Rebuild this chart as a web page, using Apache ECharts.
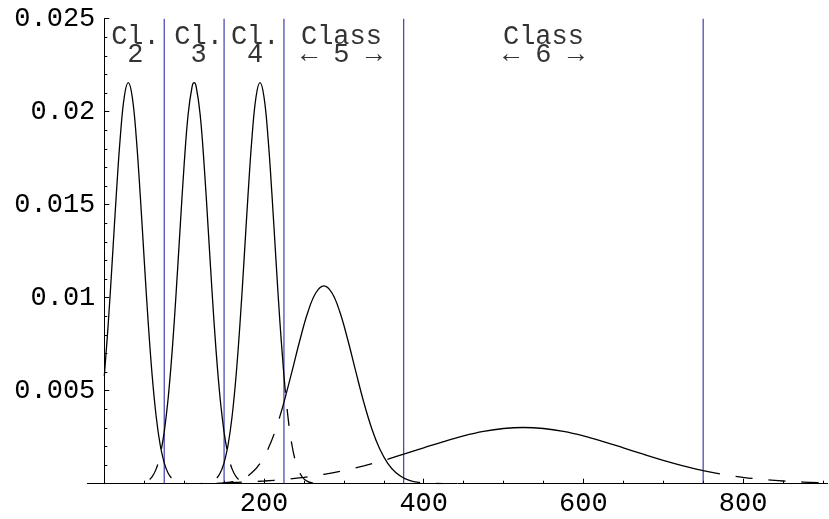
<!DOCTYPE html>
<html>
<head>
<meta charset="utf-8">
<title>Class densities</title>
<script src="https://cdn.jsdelivr.net/npm/echarts@6/dist/echarts.min.js"></script>
<style>
  html, body { margin: 0; padding: 0; background: #fff; }
  #chart { width: 829px; height: 519px; }
</style>
</head>
<body>
<div id="chart"></div>
<script>
// Class boundaries (vertical lines) and the interval owned by each class
const boundaries = [75, 150, 225, 375, 750];
const classIntervals = [[0, 75], [75, 150], [150, 225], [225, 375], [375, 750]];

// Density curves, [x, density]
const class2 = [
  [0, 0.00579], [5, 0.00865], [10, 0.01202], [15, 0.01552], [20, 0.01863], [25, 0.02079],
  [30, 0.02156], [35, 0.02079], [40, 0.01863], [45, 0.01552], [50, 0.01202], [55, 0.00865],
  [60, 0.00579], [65, 0.00360], [70, 0.00208], [75, 0.00112], [80, 0.000559], [85, 0.000260],
  [90, 0.000112], [95, 0.000045], [100, 0.0000168], [105, 0.0000058]
];
const class3 = [
  [40, 0.00001], [45, 0.0000277], [50, 0.0000717], [55, 0.000172], [60, 0.000384], [65, 0.000798],
  [70, 0.00154], [75, 0.00276], [80, 0.00461], [85, 0.00714], [90, 0.01029], [95, 0.01378],
  [100, 0.01716], [105, 0.01986], [110, 0.02136], [112.5, 0.02156], [115, 0.02136], [120, 0.01986],
  [125, 0.01716], [130, 0.01378], [135, 0.01029], [140, 0.00714], [145, 0.00461], [150, 0.00276],
  [155, 0.00154], [160, 0.000798], [165, 0.000384], [170, 0.000172], [175, 0.0000717],
  [180, 0.0000277], [185, 0.00001]
];
const class4 = [
  [120, 0.0000058], [125, 0.0000168], [130, 0.000045], [135, 0.000112], [140, 0.000260],
  [145, 0.000559], [150, 0.00112], [155, 0.00208], [160, 0.00360], [165, 0.00579], [170, 0.00865],
  [175, 0.01202], [180, 0.01552], [185, 0.01863], [190, 0.02079], [195, 0.02156], [200, 0.02079],
  [205, 0.01863], [210, 0.01552], [215, 0.01202], [220, 0.00865], [225, 0.00579], [230, 0.00360],
  [235, 0.00208], [240, 0.00112], [245, 0.000559], [250, 0.000260], [255, 0.000112],
  [260, 0.000045], [265, 0.0000168], [270, 0.0000058]
];
const class5 = [
  [125, 0.0000036], [135, 0.00001], [145, 0.0000261], [155, 0.0000636], [165, 0.000144],
  [175, 0.000304], [185, 0.000597], [195, 0.001093], [205, 0.001863], [215, 0.002958],
  [225, 0.004373], [235, 0.006023], [245, 0.007725], [255, 0.009228], [265, 0.010266],
  [275, 0.010638], [285, 0.010266], [295, 0.009228], [305, 0.007725], [315, 0.006023],
  [325, 0.004373], [335, 0.002958], [345, 0.001863], [355, 0.001093], [365, 0.000597],
  [375, 0.000304], [385, 0.000144], [395, 0.0000636], [405, 0.0000261], [415, 0.00001],
  [425, 0.0000036]
];
const class6 = [
  [150, 0.0000534], [175, 0.0000899], [200, 0.000146], [225, 0.000228], [250, 0.000345],
  [275, 0.000503], [300, 0.000707], [325, 0.000959], [350, 0.001255], [375, 0.001584],
  [400, 0.001930], [425, 0.002268], [450, 0.002572], [475, 0.002813], [500, 0.002968],
  [525, 0.003022], [550, 0.002968], [575, 0.002813], [600, 0.002572], [625, 0.002268],
  [650, 0.001930], [675, 0.001584], [700, 0.001255], [725, 0.000959], [750, 0.000707],
  [775, 0.000503], [800, 0.000345], [825, 0.000228], [850, 0.000146], [875, 0.0000899],
  [900, 0.0000534]
];
const classCurves = [class2, class3, class4, class5, class6];

// Class captions: top line, bottom line, and the x they are centred on
const captionTop = ['Cl.', 'Cl.', 'Cl.', 'Class', 'Class'];
const captionBottom = ['2', '3', '4', '\u2190 5 \u2192', '\u2190 6 \u2192'];
const captionAt = [39, 118, 189, 297, 550];

// Axis ticks
const xMajorTicks = [200, 400, 600, 800];
const xMinorTicks = [50, 100, 150, 250, 300, 350, 450, 500, 550, 650, 700, 750, 850, 900];
const yTop = 0.025;

const FONT = '"Liberation Mono", "DejaVu Sans Mono", monospace';
const INK = '#000';
const RULE = '#1a1aa0';
const CURVE_W = 1.3;
const DASH = [17, 16];
const X_MIN = -21.3, X_MAX = 906;

const series = [];

// Vertical class boundaries, full height of the plot
boundaries.forEach(b => {
  series.push({
    type: 'line',
    data: [[b, 0], [b, yTop]],
    showSymbol: false,
    silent: true,
    z: 1,
    lineStyle: { color: RULE, width: 1, type: 'solid' }
  });
});

// Each class: solid inside its interval, dashed tails outside
classCurves.forEach((pts, i) => {
  const [a, b] = classIntervals[i];
  const inside = pts.filter(p => p[0] >= a && p[0] <= b);
  const left = pts.filter(p => p[0] <= a).reverse();
  const right = pts.filter(p => p[0] >= b);
  const base = { type: 'line', showSymbol: false, smooth: 0.4, z: 3, silent: true };
  series.push(Object.assign({}, base, {
    data: inside,
    lineStyle: { color: INK, width: CURVE_W, type: 'solid' }
  }));
  if (left.length > 1) {
    series.push(Object.assign({}, base, {
      data: left,
      lineStyle: { color: INK, width: CURVE_W, type: DASH }
    }));
  }
  if (right.length > 1) {
    series.push(Object.assign({}, base, {
      data: right,
      lineStyle: { color: INK, width: CURVE_W, type: DASH }
    }));
  }
});

// Captions above the class regions
series.push({
  type: 'scatter',
  symbolSize: 0,
  silent: true,
  z: 4,
  data: captionAt.map((x, i) => ({ value: [x, 0.02354], name: String(i) })),
  label: {
    show: true,
    position: 'inside',
    align: 'center',
    verticalAlign: 'middle',
    formatter: p => captionTop[+p.name] + '\n' + captionBottom[+p.name],
    fontFamily: FONT,
    fontSize: 27,
    lineHeight: 18,
    color: INK
  }
});

const chart = echarts.init(document.getElementById('chart'), null, { renderer: 'canvas' });
chart.setOption({
  animation: false,
  backgroundColor: '#fff',
  grid: { left: 87.3, right: 1.3, top: 18.7, bottom: 35.3, containLabel: false },
  xAxis: [
    {
      type: 'value', min: X_MIN, max: X_MAX, position: 'bottom',
      axisLine: { show: true, onZero: false, lineStyle: { color: INK, width: 1 } },
      axisTick: { show: true, inside: true, length: 5, customValues: xMajorTicks, lineStyle: { color: INK } },
      axisLabel: { show: true, customValues: xMajorTicks, fontFamily: FONT, fontSize: 27, color: INK, margin: 7 },
      splitLine: { show: false }
    },
    {
      type: 'value', min: X_MIN, max: X_MAX, position: 'bottom',
      axisLine: { show: false, onZero: false },
      axisTick: { show: true, inside: true, length: 3, customValues: xMinorTicks, lineStyle: { color: INK } },
      axisLabel: { show: false },
      splitLine: { show: false }
    }
  ],
  yAxis: {
    type: 'value', min: 0, max: yTop, interval: 0.005, position: 'left',
    // the vertical axis sits at x = 0, inside the left edge of the plot
    offset: -17,
    axisLine: { show: true, onZero: false, lineStyle: { color: INK, width: 1 } },
    axisTick: { show: true, inside: true, length: 5, lineStyle: { color: INK } },
    minorTick: { show: true, splitNumber: 5, length: 3, lineStyle: { color: INK } },
    axisLabel: {
      fontFamily: FONT, fontSize: 27, color: INK, margin: 9,
      formatter: v => (v === 0 ? '' : String(+v.toFixed(3)))
    },
    splitLine: { show: false }
  },
  series: series
});
</script>
</body>
</html>
